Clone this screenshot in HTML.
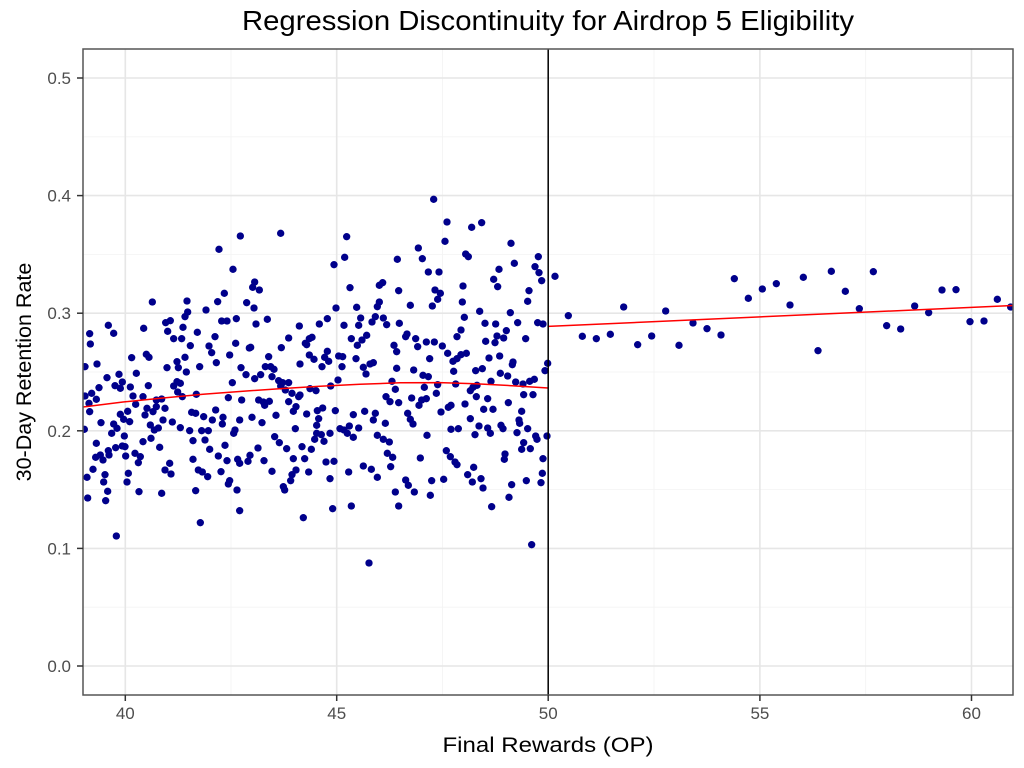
<!DOCTYPE html>
<html>
<head>
<meta charset="utf-8">
<style>
html,body{margin:0;padding:0;background:#fff;}
svg{display:block;}
text{font-family:"Liberation Sans",Arial,Helvetica,sans-serif;}
</style>
</head>
<body>
<svg width="1024" height="768" viewBox="0 0 1024 768" xmlns="http://www.w3.org/2000/svg">
<defs>
<clipPath id="panel"><rect x="83" y="49" width="930" height="646"/></clipPath>
</defs>
<rect x="0" y="0" width="1024" height="768" fill="#fff"/>
<!-- minor grid -->
<g stroke="#f4f4f4" stroke-width="0.9" fill="none">
<line x1="231" y1="49" x2="231" y2="695"/>
<line x1="442.5" y1="49" x2="442.5" y2="695"/>
<line x1="654" y1="49" x2="654" y2="695"/>
<line x1="865.7" y1="49" x2="865.7" y2="695"/>
<line x1="83" y1="607.2" x2="1013" y2="607.2"/>
<line x1="83" y1="489.6" x2="1013" y2="489.6"/>
<line x1="83" y1="372" x2="1013" y2="372"/>
<line x1="83" y1="254.4" x2="1013" y2="254.4"/>
<line x1="83" y1="136.8" x2="1013" y2="136.8"/>
</g>
<!-- major grid -->
<g stroke="#e6e6e6" stroke-width="1.6" fill="none">
<line x1="125.3" y1="49" x2="125.3" y2="695"/>
<line x1="336.7" y1="49" x2="336.7" y2="695"/>
<line x1="548.2" y1="49" x2="548.2" y2="695"/>
<line x1="759.9" y1="49" x2="759.9" y2="695"/>
<line x1="971.5" y1="49" x2="971.5" y2="695"/>
<line x1="83" y1="666" x2="1013" y2="666"/>
<line x1="83" y1="548.4" x2="1013" y2="548.4"/>
<line x1="83" y1="430.8" x2="1013" y2="430.8"/>
<line x1="83" y1="313.2" x2="1013" y2="313.2"/>
<line x1="83" y1="195.6" x2="1013" y2="195.6"/>
<line x1="83" y1="78" x2="1013" y2="78"/>
</g>
<g clip-path="url(#panel)" fill="#00008b">
<g transform="translate(83,220) scale(0.333333)">
<circle cx="472" cy="48" r="11"/><circle cx="408" cy="88" r="11"/><circle cx="450" cy="148" r="11"/><circle cx="424" cy="220" r="11"/><circle cx="404" cy="245" r="11"/><circle cx="312" cy="243" r="11"/><circle cx="208" cy="246" r="11"/><circle cx="369" cy="270" r="11"/><circle cx="314" cy="276" r="11"/><circle cx="306" cy="290" r="11"/><circle cx="460" cy="296" r="11"/><circle cx="416" cy="303" r="11"/><circle cx="432" cy="303" r="11"/><circle cx="248" cy="308" r="11"/><circle cx="262" cy="302" r="11"/><circle cx="300" cy="322" r="11"/><circle cx="254" cy="334" r="11"/><circle cx="182" cy="325" r="11"/><circle cx="76" cy="316" r="11"/><circle cx="92" cy="340" r="11"/><circle cx="20" cy="341" r="11"/><circle cx="22" cy="372" r="11"/><circle cx="272" cy="356" r="11"/><circle cx="296" cy="356" r="11"/><circle cx="343" cy="337" r="11"/><circle cx="396" cy="350" r="11"/><circle cx="378" cy="378" r="11"/><circle cx="322" cy="377" r="11"/><circle cx="458" cy="370" r="11"/><circle cx="386" cy="398" r="11"/><circle cx="400" cy="428" r="11"/><circle cx="440" cy="405" r="11"/><circle cx="146" cy="413" r="11"/><circle cx="190" cy="403" r="11"/><circle cx="198" cy="412" r="11"/><circle cx="282" cy="425" r="11"/><circle cx="306" cy="412" r="11"/><circle cx="252" cy="443" r="11"/><circle cx="286" cy="443" r="11"/><circle cx="350" cy="440" r="11"/><circle cx="310" cy="456" r="11"/><circle cx="474" cy="443" r="11"/><circle cx="42" cy="432" r="11"/><circle cx="6" cy="440" r="11"/><circle cx="160" cy="460" r="11"/><circle cx="108" cy="463" r="11"/><circle cx="72" cy="473" r="11"/><circle cx="448" cy="488" r="11"/><circle cx="282" cy="485" r="11"/><circle cx="272" cy="498" r="11"/><circle cx="292" cy="490" r="11"/><circle cx="196" cy="497" r="11"/><circle cx="48" cy="503" r="11"/><circle cx="118" cy="486" r="11"/><circle cx="96" cy="497" r="11"/><circle cx="112" cy="505" r="11"/><circle cx="142" cy="501" r="11"/><circle cx="6" cy="528" r="11"/><circle cx="26" cy="520" r="11"/><circle cx="40" cy="538" r="11"/><circle cx="18" cy="550" r="11"/><circle cx="20" cy="575" r="11"/><circle cx="150" cy="528" r="11"/><circle cx="158" cy="553" r="11"/><circle cx="180" cy="530" r="11"/><circle cx="220" cy="540" r="11"/><circle cx="236" cy="537" r="11"/><circle cx="246" cy="565" r="11"/><circle cx="298" cy="530" r="11"/><circle cx="284" cy="516" r="11"/><circle cx="340" cy="523" r="11"/><circle cx="436" cy="533" r="11"/><circle cx="476" cy="540" r="11"/><circle cx="220" cy="560" r="11"/><circle cx="192" cy="565" r="11"/><circle cx="210" cy="575" r="11"/><circle cx="186" cy="585" r="11"/><circle cx="134" cy="574" r="11"/><circle cx="112" cy="583" r="11"/><circle cx="122" cy="598" r="11"/><circle cx="140" cy="605" r="11"/><circle cx="92" cy="612" r="11"/><circle cx="102" cy="625" r="11"/><circle cx="86" cy="640" r="11"/><circle cx="54" cy="608" r="11"/><circle cx="4" cy="628" r="11"/><circle cx="240" cy="600" r="11"/><circle cx="268" cy="606" r="11"/><circle cx="292" cy="623" r="11"/><circle cx="320" cy="632" r="11"/><circle cx="326" cy="577" r="11"/><circle cx="338" cy="580" r="11"/><circle cx="362" cy="590" r="11"/><circle cx="388" cy="600" r="11"/><circle cx="398" cy="570" r="11"/><circle cx="418" cy="612" r="11"/><circle cx="420" cy="592" r="11"/><circle cx="470" cy="600" r="11"/><circle cx="456" cy="630" r="11"/><circle cx="452" cy="640" r="11"/><circle cx="202" cy="615" r="11"/><circle cx="214" cy="630" r="11"/><circle cx="226" cy="624" r="11"/><circle cx="204" cy="655" r="11"/><circle cx="180" cy="665" r="11"/><circle cx="124" cy="648" r="11"/><circle cx="126" cy="680" r="11"/><circle cx="98" cy="683" r="11"/><circle cx="118" cy="678" r="11"/><circle cx="40" cy="670" r="11"/><circle cx="76" cy="692" r="11"/><circle cx="52" cy="705" r="11"/><circle cx="60" cy="720" r="11"/><circle cx="38" cy="712" r="11"/><circle cx="78" cy="705" r="11"/><circle cx="128" cy="708" r="11"/><circle cx="156" cy="700" r="11"/><circle cx="172" cy="710" r="11"/><circle cx="166" cy="728" r="11"/><circle cx="230" cy="682" r="11"/><circle cx="330" cy="662" r="11"/><circle cx="356" cy="632" r="11"/><circle cx="376" cy="632" r="11"/><circle cx="366" cy="660" r="11"/><circle cx="380" cy="688" r="11"/><circle cx="426" cy="676" r="11"/><circle cx="406" cy="708" r="11"/><circle cx="432" cy="722" r="11"/><circle cx="464" cy="718" r="11"/><circle cx="470" cy="730" r="11"/><circle cx="330" cy="718" r="11"/><circle cx="260" cy="730" r="11"/><circle cx="246" cy="750" r="11"/><circle cx="264" cy="762" r="11"/><circle cx="346" cy="750" r="11"/><circle cx="358" cy="756" r="11"/><circle cx="374" cy="770" r="11"/><circle cx="414" cy="755" r="11"/><circle cx="440" cy="782" r="11"/><circle cx="436" cy="792" r="11"/><circle cx="462" cy="810" r="11"/><circle cx="30" cy="748" r="11"/><circle cx="12" cy="772" r="11"/><circle cx="66" cy="764" r="11"/><circle cx="62" cy="786" r="11"/><circle cx="136" cy="760" r="11"/><circle cx="132" cy="786" r="11"/><circle cx="74" cy="814" r="11"/><circle cx="68" cy="842" r="11"/><circle cx="14" cy="834" r="11"/><circle cx="168" cy="815" r="11"/><circle cx="236" cy="820" r="11"/><circle cx="338" cy="812" r="11"/><circle cx="470" cy="872" r="11"/><circle cx="352" cy="908" r="11"/><circle cx="100" cy="948" r="11"/>
</g>
<g transform="translate(240,220) scale(0.333333)">
<circle cx="122" cy="40" r="11"/><circle cx="320" cy="50" r="11"/><circle cx="314" cy="112" r="11"/><circle cx="282" cy="134" r="11"/><circle cx="472" cy="118" r="11"/><circle cx="44" cy="186" r="11"/><circle cx="38" cy="202" r="11"/><circle cx="58" cy="210" r="11"/><circle cx="330" cy="203" r="11"/><circle cx="428" cy="188" r="11"/><circle cx="418" cy="196" r="11"/><circle cx="476" cy="212" r="11"/><circle cx="20" cy="248" r="11"/><circle cx="42" cy="264" r="11"/><circle cx="288" cy="264" r="11"/><circle cx="350" cy="262" r="11"/><circle cx="418" cy="246" r="11"/><circle cx="412" cy="260" r="11"/><circle cx="48" cy="312" r="11"/><circle cx="82" cy="298" r="11"/><circle cx="178" cy="318" r="11"/><circle cx="238" cy="312" r="11"/><circle cx="262" cy="296" r="11"/><circle cx="312" cy="316" r="11"/><circle cx="356" cy="316" r="11"/><circle cx="362" cy="294" r="11"/><circle cx="396" cy="306" r="11"/><circle cx="406" cy="290" r="11"/><circle cx="430" cy="294" r="11"/><circle cx="440" cy="314" r="11"/><circle cx="478" cy="310" r="11"/><circle cx="146" cy="354" r="11"/><circle cx="124" cy="383" r="11"/><circle cx="196" cy="370" r="11"/><circle cx="208" cy="356" r="11"/><circle cx="216" cy="352" r="11"/><circle cx="200" cy="374" r="11"/><circle cx="32" cy="382" r="11"/><circle cx="28" cy="384" r="11"/><circle cx="334" cy="356" r="11"/><circle cx="352" cy="376" r="11"/><circle cx="366" cy="360" r="11"/><circle cx="380" cy="346" r="11"/><circle cx="462" cy="376" r="11"/><circle cx="470" cy="395" r="11"/><circle cx="86" cy="410" r="11"/><circle cx="208" cy="405" r="11"/><circle cx="222" cy="418" r="11"/><circle cx="246" cy="440" r="11"/><circle cx="262" cy="394" r="11"/><circle cx="266" cy="424" r="11"/><circle cx="254" cy="412" r="11"/><circle cx="296" cy="408" r="11"/><circle cx="308" cy="410" r="11"/><circle cx="306" cy="440" r="11"/><circle cx="348" cy="416" r="11"/><circle cx="370" cy="442" r="11"/><circle cx="378" cy="462" r="11"/><circle cx="390" cy="432" r="11"/><circle cx="400" cy="428" r="11"/><circle cx="180" cy="432" r="11"/><circle cx="18" cy="464" r="11"/><circle cx="44" cy="476" r="11"/><circle cx="62" cy="464" r="11"/><circle cx="76" cy="440" r="11"/><circle cx="92" cy="440" r="11"/><circle cx="102" cy="448" r="11"/><circle cx="96" cy="470" r="11"/><circle cx="116" cy="482" r="11"/><circle cx="128" cy="488" r="11"/><circle cx="146" cy="488" r="11"/><circle cx="122" cy="498" r="11"/><circle cx="136" cy="510" r="11"/><circle cx="156" cy="520" r="11"/><circle cx="180" cy="525" r="11"/><circle cx="176" cy="530" r="11"/><circle cx="210" cy="506" r="11"/><circle cx="228" cy="512" r="11"/><circle cx="272" cy="498" r="11"/><circle cx="294" cy="480" r="11"/><circle cx="470" cy="445" r="11"/><circle cx="456" cy="484" r="11"/><circle cx="466" cy="508" r="11"/><circle cx="438" cy="530" r="11"/><circle cx="450" cy="545" r="11"/><circle cx="476" cy="548" r="11"/><circle cx="56" cy="540" r="11"/><circle cx="70" cy="546" r="11"/><circle cx="88" cy="544" r="11"/><circle cx="74" cy="556" r="11"/><circle cx="146" cy="545" r="11"/><circle cx="168" cy="560" r="11"/><circle cx="160" cy="574" r="11"/><circle cx="108" cy="586" r="11"/><circle cx="36" cy="592" r="11"/><circle cx="66" cy="608" r="11"/><circle cx="200" cy="582" r="11"/><circle cx="232" cy="572" r="11"/><circle cx="248" cy="564" r="11"/><circle cx="236" cy="596" r="11"/><circle cx="230" cy="616" r="11"/><circle cx="286" cy="572" r="11"/><circle cx="340" cy="584" r="11"/><circle cx="374" cy="574" r="11"/><circle cx="406" cy="580" r="11"/><circle cx="400" cy="600" r="11"/><circle cx="436" cy="610" r="11"/><circle cx="166" cy="626" r="11"/><circle cx="300" cy="626" r="11"/><circle cx="312" cy="630" r="11"/><circle cx="328" cy="618" r="11"/><circle cx="322" cy="640" r="11"/><circle cx="340" cy="652" r="11"/><circle cx="356" cy="624" r="11"/><circle cx="412" cy="646" r="11"/><circle cx="430" cy="658" r="11"/><circle cx="448" cy="666" r="11"/><circle cx="230" cy="640" r="11"/><circle cx="244" cy="644" r="11"/><circle cx="252" cy="664" r="11"/><circle cx="270" cy="640" r="11"/><circle cx="224" cy="658" r="11"/><circle cx="214" cy="688" r="11"/><circle cx="186" cy="680" r="11"/><circle cx="104" cy="650" r="11"/><circle cx="118" cy="668" r="11"/><circle cx="140" cy="686" r="11"/><circle cx="54" cy="684" r="11"/><circle cx="30" cy="706" r="11"/><circle cx="24" cy="724" r="11"/><circle cx="72" cy="722" r="11"/><circle cx="160" cy="716" r="11"/><circle cx="194" cy="716" r="11"/><circle cx="96" cy="754" r="11"/><circle cx="206" cy="756" r="11"/><circle cx="258" cy="726" r="11"/><circle cx="282" cy="724" r="11"/><circle cx="270" cy="776" r="11"/><circle cx="326" cy="756" r="11"/><circle cx="370" cy="738" r="11"/><circle cx="394" cy="748" r="11"/><circle cx="412" cy="772" r="11"/><circle cx="442" cy="700" r="11"/><circle cx="458" cy="712" r="11"/><circle cx="452" cy="740" r="11"/><circle cx="168" cy="750" r="11"/><circle cx="156" cy="764" r="11"/><circle cx="152" cy="782" r="11"/><circle cx="130" cy="800" r="11"/><circle cx="134" cy="810" r="11"/><circle cx="466" cy="816" r="11"/><circle cx="476" cy="858" r="11"/><circle cx="334" cy="858" r="11"/><circle cx="278" cy="866" r="11"/><circle cx="190" cy="893" r="11"/>
</g>
<g transform="translate(395,180) scale(0.333333)">
<circle cx="116" cy="58" r="11"/><circle cx="156" cy="126" r="11"/><circle cx="230" cy="142" r="11"/><circle cx="260" cy="128" r="11"/><circle cx="150" cy="184" r="11"/><circle cx="70" cy="204" r="11"/><circle cx="82" cy="236" r="11"/><circle cx="348" cy="190" r="11"/><circle cx="358" cy="250" r="11"/><circle cx="430" cy="230" r="11"/><circle cx="212" cy="222" r="11"/><circle cx="220" cy="230" r="11"/><circle cx="100" cy="276" r="11"/><circle cx="132" cy="276" r="11"/><circle cx="312" cy="268" r="11"/><circle cx="296" cy="298" r="11"/><circle cx="308" cy="320" r="11"/><circle cx="420" cy="260" r="11"/><circle cx="432" cy="278" r="11"/><circle cx="440" cy="302" r="11"/><circle cx="120" cy="330" r="11"/><circle cx="136" cy="340" r="11"/><circle cx="128" cy="358" r="11"/><circle cx="112" cy="378" r="11"/><circle cx="204" cy="318" r="11"/><circle cx="202" cy="366" r="11"/><circle cx="46" cy="376" r="11"/><circle cx="402" cy="332" r="11"/><circle cx="398" cy="364" r="11"/><circle cx="254" cy="394" r="11"/><circle cx="208" cy="412" r="11"/><circle cx="346" cy="398" r="11"/><circle cx="270" cy="430" r="11"/><circle cx="302" cy="432" r="11"/><circle cx="368" cy="428" r="11"/><circle cx="428" cy="428" r="11"/><circle cx="444" cy="432" r="11"/><circle cx="36" cy="462" r="11"/><circle cx="32" cy="470" r="11"/><circle cx="62" cy="476" r="11"/><circle cx="68" cy="500" r="11"/><circle cx="94" cy="486" r="11"/><circle cx="118" cy="486" r="11"/><circle cx="142" cy="498" r="11"/><circle cx="158" cy="520" r="11"/><circle cx="186" cy="470" r="11"/><circle cx="198" cy="450" r="11"/><circle cx="186" cy="536" r="11"/><circle cx="198" cy="524" r="11"/><circle cx="214" cy="520" r="11"/><circle cx="174" cy="544" r="11"/><circle cx="104" cy="536" r="11"/><circle cx="272" cy="484" r="11"/><circle cx="300" cy="488" r="11"/><circle cx="306" cy="468" r="11"/><circle cx="326" cy="474" r="11"/><circle cx="334" cy="452" r="11"/><circle cx="392" cy="476" r="11"/><circle cx="314" cy="528" r="11"/><circle cx="282" cy="534" r="11"/><circle cx="354" cy="546" r="11"/><circle cx="352" cy="554" r="11"/><circle cx="458" cy="550" r="11"/><circle cx="450" cy="572" r="11"/><circle cx="242" cy="572" r="11"/><circle cx="262" cy="566" r="11"/><circle cx="56" cy="570" r="11"/><circle cx="84" cy="586" r="11"/><circle cx="100" cy="590" r="11"/><circle cx="88" cy="622" r="11"/><circle cx="128" cy="614" r="11"/><circle cx="124" cy="640" r="11"/><circle cx="176" cy="574" r="11"/><circle cx="182" cy="612" r="11"/><circle cx="316" cy="580" r="11"/><circle cx="338" cy="588" r="11"/><circle cx="288" cy="604" r="11"/><circle cx="234" cy="622" r="11"/><circle cx="226" cy="632" r="11"/><circle cx="246" cy="616" r="11"/><circle cx="362" cy="606" r="11"/><circle cx="384" cy="612" r="11"/><circle cx="404" cy="604" r="11"/><circle cx="418" cy="598" r="11"/><circle cx="386" cy="644" r="11"/><circle cx="414" cy="644" r="11"/><circle cx="50" cy="654" r="11"/><circle cx="72" cy="676" r="11"/><circle cx="80" cy="660" r="11"/><circle cx="94" cy="656" r="11"/><circle cx="138" cy="696" r="11"/><circle cx="160" cy="682" r="11"/><circle cx="168" cy="676" r="11"/><circle cx="210" cy="672" r="11"/><circle cx="244" cy="650" r="11"/><circle cx="278" cy="656" r="11"/><circle cx="266" cy="688" r="11"/><circle cx="294" cy="688" r="11"/><circle cx="340" cy="668" r="11"/><circle cx="380" cy="694" r="11"/><circle cx="38" cy="700" r="11"/><circle cx="46" cy="718" r="11"/><circle cx="54" cy="732" r="11"/><circle cx="226" cy="716" r="11"/><circle cx="252" cy="738" r="11"/><circle cx="240" cy="764" r="11"/><circle cx="278" cy="744" r="11"/><circle cx="286" cy="760" r="11"/><circle cx="318" cy="736" r="11"/><circle cx="324" cy="746" r="11"/><circle cx="372" cy="720" r="11"/><circle cx="374" cy="730" r="11"/><circle cx="366" cy="758" r="11"/><circle cx="398" cy="746" r="11"/><circle cx="96" cy="766" r="11"/><circle cx="168" cy="748" r="11"/><circle cx="190" cy="746" r="11"/><circle cx="422" cy="768" r="11"/><circle cx="426" cy="778" r="11"/><circle cx="456" cy="768" r="11"/><circle cx="386" cy="788" r="11"/><circle cx="380" cy="808" r="11"/><circle cx="406" cy="806" r="11"/><circle cx="154" cy="812" r="11"/><circle cx="166" cy="830" r="11"/><circle cx="180" cy="846" r="11"/><circle cx="186" cy="854" r="11"/><circle cx="236" cy="862" r="11"/><circle cx="218" cy="884" r="11"/><circle cx="232" cy="906" r="11"/><circle cx="258" cy="896" r="11"/><circle cx="264" cy="924" r="11"/><circle cx="330" cy="822" r="11"/><circle cx="328" cy="838" r="11"/><circle cx="444" cy="836" r="11"/><circle cx="442" cy="880" r="11"/><circle cx="438" cy="908" r="11"/><circle cx="394" cy="902" r="11"/><circle cx="350" cy="914" r="11"/><circle cx="342" cy="952" r="11"/><circle cx="290" cy="980" r="11"/><circle cx="76" cy="834" r="11"/><circle cx="32" cy="900" r="11"/><circle cx="40" cy="916" r="11"/><circle cx="58" cy="936" r="11"/><circle cx="110" cy="902" r="11"/><circle cx="146" cy="898" r="11"/><circle cx="106" cy="946" r="11"/><circle cx="410" cy="1094" r="11"/>
</g>
<circle cx="369" cy="563" r="3.67"/>
<g transform="translate(545,255) scale(0.333333)">
<circle cx="30" cy="64" r="11"/><circle cx="70" cy="182" r="11"/><circle cx="112" cy="244" r="11"/><circle cx="154" cy="251" r="11"/><circle cx="196" cy="238" r="11"/><circle cx="236" cy="156" r="11"/><circle cx="278" cy="269" r="11"/><circle cx="320" cy="243" r="11"/><circle cx="362" cy="168" r="11"/><circle cx="402" cy="271" r="11"/><circle cx="444" cy="204" r="11"/><circle cx="486" cy="221" r="11"/><circle cx="528" cy="240" r="11"/><circle cx="568" cy="71" r="11"/><circle cx="610" cy="130" r="11"/><circle cx="652" cy="102" r="11"/><circle cx="694" cy="86" r="11"/>
</g>
<g transform="translate(780,255) scale(0.333333)">
<circle cx="30" cy="150" r="11"/><circle cx="70" cy="67" r="11"/><circle cx="114" cy="287" r="11"/><circle cx="154" cy="49" r="11"/><circle cx="196" cy="109" r="11"/><circle cx="238" cy="161" r="11"/><circle cx="280" cy="50" r="11"/><circle cx="320" cy="212" r="11"/><circle cx="362" cy="222" r="11"/><circle cx="404" cy="153" r="11"/><circle cx="446" cy="173" r="11"/><circle cx="486" cy="105" r="11"/><circle cx="528" cy="104" r="11"/><circle cx="570" cy="200" r="11"/><circle cx="612" cy="198" r="11"/><circle cx="652" cy="133" r="11"/><circle cx="692" cy="156" r="11"/>
</g>
</g>
<!-- fitted lines -->
<g clip-path="url(#panel)" fill="none" stroke="#ff0000" stroke-width="1.5">
<polyline points="83,407 123,402 163,398 203,394.3 243,391.2 283,388.5 320,386.3 360,384.3 400,382.8 440,382.6 475,383.8 510,385.6 548,388"/>
<line x1="548.2" y1="326.4" x2="1013" y2="305.5"/>
</g>
<!-- cutoff line -->
<line x1="548.2" y1="49" x2="548.2" y2="695" stroke="#000" stroke-width="1.5"/>
<!-- panel border -->
<rect x="83" y="49" width="930" height="646" fill="none" stroke="#555" stroke-width="1.5"/>
<!-- ticks -->
<g stroke="#333" stroke-width="1.5">
<line x1="77" y1="666" x2="83" y2="666"/>
<line x1="77" y1="548.4" x2="83" y2="548.4"/>
<line x1="77" y1="430.8" x2="83" y2="430.8"/>
<line x1="77" y1="313.2" x2="83" y2="313.2"/>
<line x1="77" y1="195.6" x2="83" y2="195.6"/>
<line x1="77" y1="78" x2="83" y2="78"/>
<line x1="125.3" y1="695" x2="125.3" y2="701"/>
<line x1="336.7" y1="695" x2="336.7" y2="701"/>
<line x1="548.2" y1="695" x2="548.2" y2="701"/>
<line x1="759.9" y1="695" x2="759.9" y2="701"/>
<line x1="971.5" y1="695" x2="971.5" y2="701"/>
</g>
<!-- tick labels -->
<g font-size="17" fill="#4d4d4d" text-anchor="end">
<text x="71" y="672">0.0</text>
<text x="71" y="554.4">0.1</text>
<text x="71" y="436.8">0.2</text>
<text x="71" y="319.2">0.3</text>
<text x="71" y="201.6">0.4</text>
<text x="71" y="84">0.5</text>
</g>
<g font-size="17" fill="#4d4d4d" text-anchor="middle">
<text x="125.3" y="719">40</text>
<text x="336.7" y="719">45</text>
<text x="548.2" y="719">50</text>
<text x="759.9" y="719">55</text>
<text x="971.5" y="719">60</text>
</g>
<!-- titles -->
<text x="548" y="30" font-size="28" fill="#000" text-anchor="middle" textLength="612" lengthAdjust="spacingAndGlyphs">Regression Discontinuity for Airdrop 5 Eligibility</text>
<text x="548" y="752" font-size="21.5" fill="#000" text-anchor="middle" textLength="211" lengthAdjust="spacingAndGlyphs">Final Rewards (OP)</text>
<text transform="translate(31,372) rotate(-90)" x="0" y="0" font-size="21.5" fill="#000" text-anchor="middle">30-Day Retention Rate</text>
</svg>
</body>
</html>
